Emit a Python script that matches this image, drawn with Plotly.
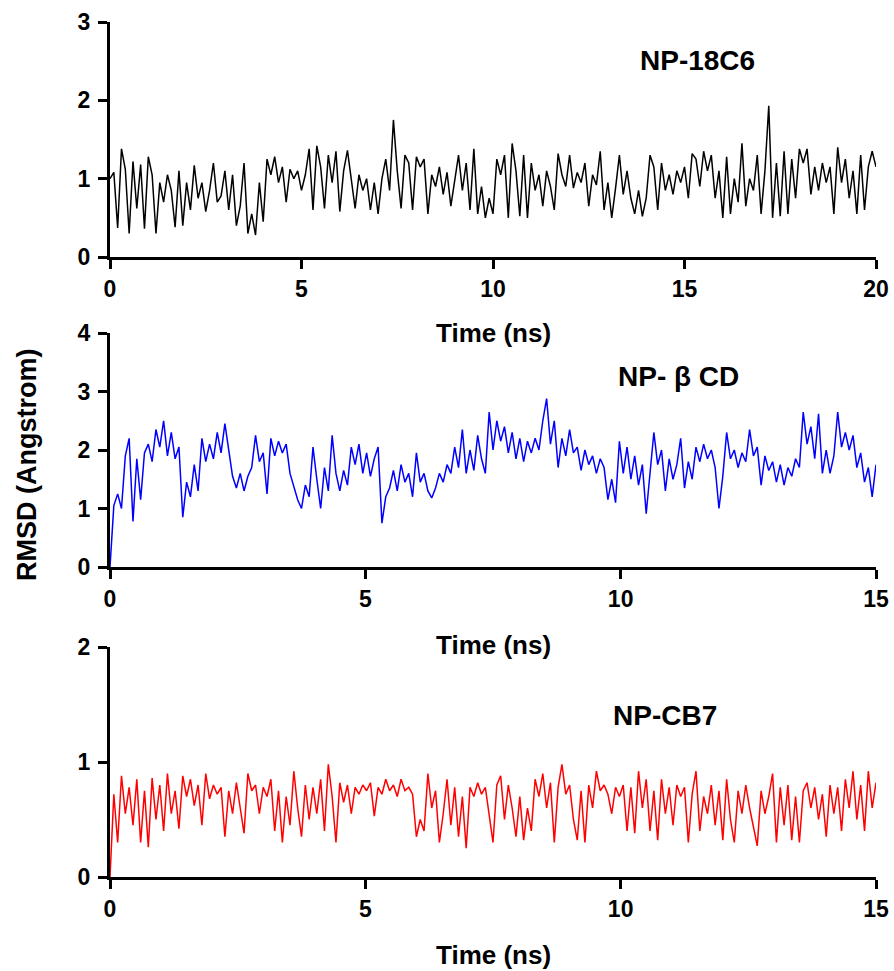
import numpy as np
import plotly.graph_objects as go

# ---------------- data ----------------
rmsd_18c6 = [
    1.00, 1.08, 0.37, 1.38, 1.12, 0.30, 1.22, 0.62, 1.18, 0.36,
    1.28, 1.05, 0.30, 0.95, 0.70, 1.05, 0.85, 0.38, 1.10, 0.40,
    0.95, 0.60, 1.17, 0.75, 0.95, 0.58, 0.85, 1.20, 0.70, 0.78,
    1.10, 0.60, 1.05, 0.40, 0.65, 1.20, 0.30, 0.55, 0.28, 0.95,
    0.45, 1.25, 1.05, 1.28, 0.95, 1.15, 0.70, 1.12, 1.00, 1.10,
    0.85, 1.05, 1.38, 0.60, 1.42, 1.15, 0.62, 1.30, 0.95, 1.35,
    0.58, 1.10, 1.36, 0.95, 0.62, 1.05, 0.85, 1.00, 0.60, 0.95,
    0.55, 1.00, 1.25, 0.85, 1.75, 1.10, 0.62, 1.30, 1.20, 0.60,
    1.28, 1.15, 1.25, 0.55, 1.05, 0.90, 1.15, 0.80, 1.08, 0.65,
    1.00, 1.30, 0.85, 1.20, 0.60, 1.38, 0.55, 0.90, 0.50, 0.75,
    0.55, 1.25, 1.05, 1.30, 0.50, 1.45, 1.10, 0.52, 1.30, 0.50,
    1.20, 0.85, 1.05, 0.65, 1.10, 0.90, 0.60, 1.32, 1.05, 0.90,
    1.30, 0.88, 1.08, 0.95, 1.20, 0.65, 1.05, 0.92, 1.35, 0.60,
    0.95, 0.50, 0.88, 1.30, 0.80, 1.10, 0.75, 0.55, 0.85, 0.52,
    0.75, 1.30, 1.15, 0.60, 1.20, 0.85, 1.05, 0.80, 1.10, 0.95,
    1.15, 0.75, 1.32, 1.25, 0.90, 1.35, 1.10, 1.30, 0.75, 1.10,
    0.50, 1.28, 0.55, 1.00, 0.70, 1.45, 0.65, 1.00, 0.85, 1.30,
    0.55, 1.10, 1.93, 0.50, 1.20, 0.52, 1.35, 0.55, 1.25, 0.75,
    1.38, 1.20, 1.38, 0.80, 1.15, 0.85, 1.20, 0.95, 1.15, 0.55,
    1.40, 0.95, 1.25, 0.75, 1.10, 0.55, 1.30, 0.60, 1.15, 1.35,
    1.15,
]

rmsd_bcd = [
    0.00, 1.05, 1.25, 1.00, 1.90, 2.20, 0.78, 1.85, 1.15, 1.95,
    2.10, 1.80, 2.35, 2.05, 2.50, 1.90, 2.30, 1.85, 2.05, 0.85,
    1.45, 1.20, 1.75, 1.30, 2.20, 1.80, 2.10, 1.85, 2.30, 1.95,
    2.45, 2.00, 1.55, 1.35, 1.60, 1.30, 1.55, 1.70, 2.25, 1.80,
    1.95, 1.25, 2.20, 1.90, 2.15, 1.95, 2.10, 1.60, 1.35, 1.15,
    1.00, 1.40, 1.20, 2.05, 1.50, 1.00, 1.70, 1.30, 2.25, 1.60,
    1.30, 1.65, 1.40, 2.05, 1.75, 2.10, 1.60, 1.95, 1.55, 1.85,
    2.05, 0.75, 1.20, 1.35, 1.65, 1.30, 1.75, 1.45, 1.60, 1.20,
    1.95, 1.45, 1.60, 1.30, 1.18, 1.35, 1.60, 1.45, 1.75, 1.60,
    2.05, 1.70, 2.35, 1.60, 2.00, 1.65, 2.25, 1.85, 1.60, 2.65,
    2.00, 2.50, 2.15, 2.40, 1.95, 2.30, 1.85, 2.20, 1.80, 2.15,
    1.95, 2.20, 2.00, 2.50, 2.88, 2.10, 2.50, 1.70, 2.20, 1.90,
    2.35, 1.95, 2.05, 1.65, 2.00, 1.75, 1.90, 1.60, 1.85, 1.70,
    1.15, 1.50, 1.10, 2.15, 1.60, 2.05, 1.50, 1.90, 1.40, 1.75,
    0.91, 1.60, 2.30, 1.75, 2.00, 1.30, 1.85, 1.50, 1.75, 2.20,
    1.35, 1.80, 1.50, 2.05, 1.80, 2.10, 1.85, 2.00, 1.70, 1.00,
    1.55, 2.30, 1.85, 2.00, 1.70, 1.95, 1.80, 2.35, 1.90, 2.05,
    1.40, 1.90, 1.65, 1.80, 1.45, 1.75, 1.40, 1.70, 1.55, 1.85,
    1.70, 2.65, 2.10, 2.40, 1.85, 2.62, 1.60, 2.00, 1.60, 1.90,
    2.65, 2.05, 2.30, 2.00, 2.25, 1.70, 1.95, 1.45, 1.70, 1.20,
    1.75,
]

rmsd_cb7 = [
    0.00, 0.72, 0.30, 0.88, 0.55, 0.78, 0.45, 0.85, 0.30, 0.75,
    0.26, 0.86, 0.50, 0.80, 0.40, 0.90, 0.55, 0.75, 0.42, 0.88,
    0.70, 0.85, 0.62, 0.80, 0.45, 0.90, 0.68, 0.80, 0.72, 0.78,
    0.35, 0.75, 0.55, 0.82, 0.60, 0.38, 0.90, 0.75, 0.80, 0.55,
    0.78, 0.70, 0.85, 0.40, 0.75, 0.30, 0.70, 0.45, 0.92, 0.60,
    0.35, 0.80, 0.50, 0.78, 0.55, 0.85, 0.40, 0.98, 0.70, 0.30,
    0.82, 0.65, 0.80, 0.55, 0.78, 0.72, 0.80, 0.75, 0.82, 0.53,
    0.78, 0.72, 0.85, 0.75, 0.80, 0.70, 0.85, 0.75, 0.78, 0.72,
    0.35, 0.50, 0.40, 0.90, 0.60, 0.75, 0.30, 0.55, 0.85, 0.45,
    0.78, 0.35, 0.70, 0.25, 0.78, 0.70, 0.82, 0.72, 0.78, 0.55,
    0.30, 0.80, 0.88, 0.50, 0.80, 0.60, 0.35, 0.70, 0.32, 0.60,
    0.40, 0.85, 0.70, 0.90, 0.60, 0.82, 0.30, 0.78, 0.98, 0.72,
    0.80, 0.50, 0.32, 0.75, 0.30, 0.80, 0.60, 0.92, 0.75, 0.80,
    0.72, 0.55, 0.78, 0.70, 0.80, 0.40, 0.78, 0.38, 0.92, 0.60,
    0.85, 0.40, 0.75, 0.32, 0.85, 0.55, 0.78, 0.45, 0.80, 0.70,
    0.78, 0.30, 0.72, 0.92, 0.40, 0.70, 0.55, 0.80, 0.45, 0.75,
    0.32, 0.85, 0.50, 0.30, 0.75, 0.55, 0.80, 0.60, 0.45, 0.27,
    0.75, 0.55, 0.70, 0.90, 0.30, 0.78, 0.45, 0.80, 0.32, 0.70,
    0.30, 0.75, 0.82, 0.60, 0.78, 0.50, 0.72, 0.35, 0.80, 0.55,
    0.78, 0.40, 0.85, 0.60, 0.92, 0.50, 0.80, 0.40, 0.92, 0.60,
    0.82,
]

t_18c6 = np.linspace(0, 20, len(rmsd_18c6))
t_bcd = np.linspace(0, 15, len(rmsd_bcd))
t_cb7 = np.linspace(0, 15, len(rmsd_cb7))

panel_labels = ["NP-18C6", "NP- \u03b2 CD", "NP-CB7"]
x_title = "Time (ns)"
y_title = "RMSD (Angstrom)"

# ---------------- figure ----------------
W, H = 894, 971
FONT = "Liberation Sans, Arial, sans-serif"

def py(p):
    return 1 - p / H

fig = go.Figure()
fig.add_trace(go.Scatter(x=t_18c6, y=rmsd_18c6, mode="lines",
                         line=dict(color="black", width=1.5),
                         xaxis="x", yaxis="y", showlegend=False))
fig.add_trace(go.Scatter(x=t_bcd, y=rmsd_bcd, mode="lines",
                         line=dict(color="#0000ff", width=1.5),
                         xaxis="x2", yaxis="y2", showlegend=False))
fig.add_trace(go.Scatter(x=t_cb7, y=rmsd_cb7, mode="lines",
                         line=dict(color="#ff0000", width=1.5),
                         xaxis="x3", yaxis="y3", showlegend=False))

xdom = [110 / W, 876 / W]
axis_common = dict(showline=True, linecolor="black", linewidth=3,
                   ticks="outside", ticklen=9, tickwidth=3, tickcolor="black",
                   showgrid=False, zeroline=False,
                   tickfont=dict(family=FONT, size=23, color="black", weight="bold"))

panels = [
    dict(top=22, bottom=257, xr=[0, 20], xt=[0, 5, 10, 15, 20], yr=[0, 3], yt=[0, 1, 2, 3]),
    dict(top=333, bottom=567, xr=[0, 15], xt=[0, 5, 10, 15], yr=[0, 4], yt=[0, 1, 2, 3, 4]),
    dict(top=647, bottom=877, xr=[0, 15], xt=[0, 5, 10, 15], yr=[0, 2], yt=[0, 1, 2]),
]

layout = dict(width=W, height=H, margin=dict(l=0, r=0, t=0, b=0, autoexpand=False),
              plot_bgcolor="white", paper_bgcolor="white", showlegend=False)
for i, p in enumerate(panels):
    sfx = "" if i == 0 else str(i + 1)
    layout["xaxis" + sfx] = dict(domain=xdom, range=p["xr"], tickvals=p["xt"],
                                 anchor="y" + sfx, **axis_common)
    layout["yaxis" + sfx] = dict(domain=[py(p["bottom"]), py(p["top"])], range=p["yr"],
                                 tickvals=p["yt"], anchor="x" + sfx, ticklabelstandoff=3,
                                 **axis_common)
fig.update_layout(**layout)

ann = []
for yc in [333, 645, 955]:
    ann.append(dict(x=493 / W, y=py(yc), xref="paper", yref="paper", text=x_title,
                    showarrow=False, xanchor="center", yanchor="middle",
                    font=dict(family=FONT, size=26, color="black", weight="bold")))
ann.append(dict(x=27 / W, y=py(465), xref="paper", yref="paper", text=y_title,
                showarrow=False, textangle=-90, xanchor="center", yanchor="middle",
                font=dict(family=FONT, size=27, color="black", weight="bold")))
for (xc, yc), lab in zip([(697, 60), (678, 376), (665, 715)], panel_labels):
    ann.append(dict(x=xc / W, y=py(yc), xref="paper", yref="paper", text=lab,
                    showarrow=False, xanchor="center", yanchor="middle",
                    font=dict(family=FONT, size=28, color="black", weight="bold")))
fig.update_layout(annotations=ann)

fig.write_html("out.html",
               post_script="document.body.style.margin='0';document.body.style.overflow='hidden';")
